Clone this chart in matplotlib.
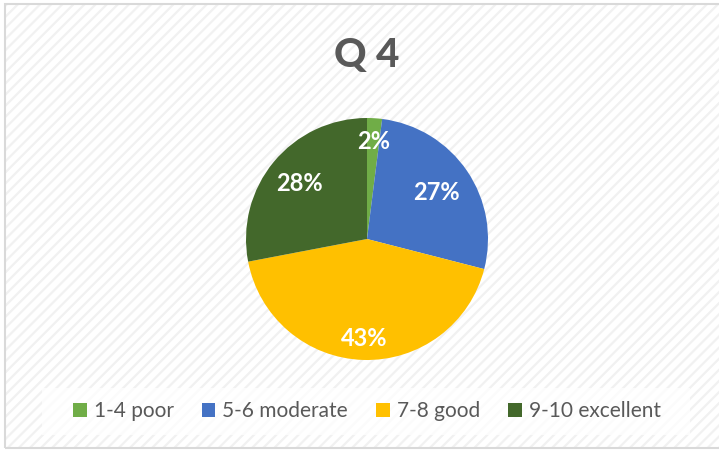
import numpy as np
import matplotlib.pyplot as plt
from matplotlib.patches import Rectangle, Patch

labels = ["1-4 poor", "5-6 moderate", "7-8 good", "9-10 excellent"]
values = [2, 27, 43, 28]
colors = ["#70AD47", "#4472C4", "#FFC000", "#43682B"]
title = "Q 4"

plt.rcParams["font.family"] = ["Lato", "DejaVu Sans"]
plt.rcParams["hatch.linewidth"] = 1.6

W, H = 719, 450
fig = plt.figure(figsize=(W / 100, H / 100), dpi=100, facecolor="white")

# hatched chart background + thin border
fig.patches.append(Rectangle((5 / W, 2 / H), 1, 1 - 6 / H, transform=fig.transFigure,
                             facecolor="white", edgecolor="#f1f1f1", hatch="///",
                             linewidth=0, zorder=-3))
fig.patches.append(Rectangle((5 / W, 2 / H), 1, 1 - 6 / H, transform=fig.transFigure,
                             fill=False, edgecolor="#d9d9d9", linewidth=1.5, zorder=-2))
# legend area (plain)
fig.patches.append(Rectangle((42 / W, (H - 435) / H), 648 / W, 47 / H,
                             transform=fig.transFigure, facecolor="white",
                             edgecolor="none", alpha=0.75, zorder=-2))

# pie axes: center (367, 239), radius 121 px
cx, cy, r = 367, 239, 121
ax = fig.add_axes([(cx - r) / W, (H - cy - r) / H, 2 * r / W, 2 * r / H])
ax.set_zorder(2)
ax.set_facecolor("none")
wedges, texts, autotexts = ax.pie(values, colors=colors, startangle=90, counterclock=False,
                                  autopct="%1.0f%%", pctdistance=0.75, radius=1,
                                  textprops=dict(color="white", fontsize=17, fontweight="bold"))
ax.set_xlim(-1, 1)
ax.set_ylim(-1, 1)
ax.set_aspect("equal")

# reposition labels (Excel best-fit style)
dists = [0.81, 0.69, 0.82, 0.72]
start = 90.0
for t, v, d in zip(autotexts, values, dists):
    mid = np.deg2rad(start - v * 3.6 / 2)
    t.set_position((d * np.cos(mid), d * np.sin(mid)))
    start -= v * 3.6

fig.text(cx / W, 1 - 55 / H, title, ha="center", va="center", fontsize=29,
         fontweight="black", color="#595959")

handles = [Patch(facecolor=c, edgecolor="none") for c in colors]
leg = fig.legend(handles, labels, loc="center", bbox_to_anchor=(cx / W, 1 - 411 / H), ncol=4,
                 frameon=False, fontsize=15, labelcolor="#595959", handlelength=0.65,
                 handleheight=0.65, handletextpad=0.34, columnspacing=1.35)

fig.savefig("out.png", dpi=100, facecolor="white")
